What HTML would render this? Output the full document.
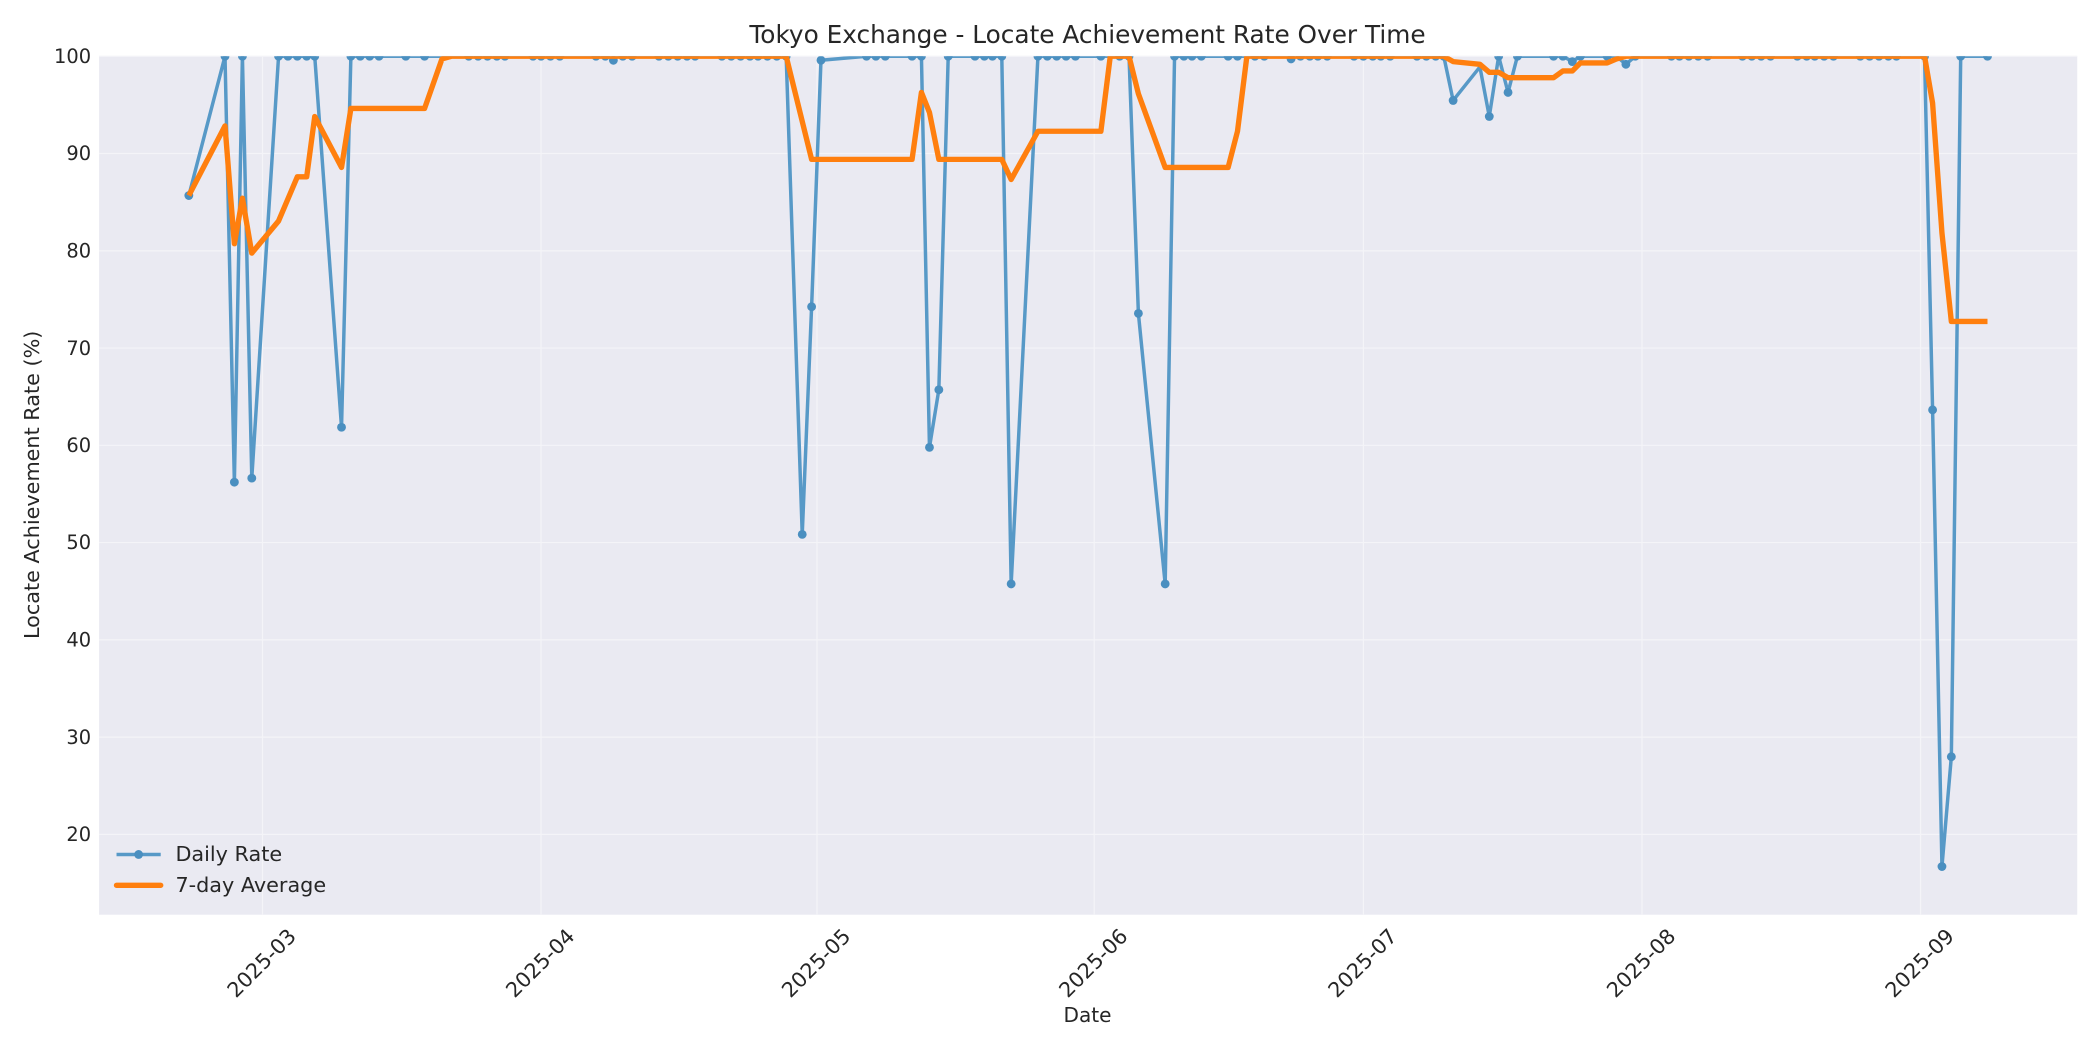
<!DOCTYPE html>
<html><head><meta charset="utf-8"><style>html,body{margin:0;padding:0;background:#fff}svg{display:block}</style></head>
<body>
<svg width="2100" height="1050" viewBox="0 0 1568 784" xmlns="http://www.w3.org/2000/svg" font-family="'DejaVu Sans','Liberation Sans',sans-serif">
<rect x="0" y="0" width="1568" height="784" fill="#fff"/>
<rect x="74" y="42" width="1477" height="641" fill="#eaeaf2"/>
<g stroke="#f4f4f8" stroke-width="0.9">
<line x1="74" x2="1551" y1="42" y2="42"/><line x1="74" x2="1551" y1="114.6" y2="114.6"/><line x1="74" x2="1551" y1="187.3" y2="187.3"/><line x1="74" x2="1551" y1="259.9" y2="259.9"/><line x1="74" x2="1551" y1="332.5" y2="332.5"/><line x1="74" x2="1551" y1="405.1" y2="405.1"/><line x1="74" x2="1551" y1="477.8" y2="477.8"/><line x1="74" x2="1551" y1="550.4" y2="550.4"/><line x1="74" x2="1551" y1="623" y2="623"/>
<line x1="196" x2="196" y1="42" y2="683"/><line x1="404" x2="404" y1="42" y2="683"/><line x1="610" x2="610" y1="42" y2="683"/><line x1="817" x2="817" y1="42" y2="683"/><line x1="1018" x2="1018" y1="42" y2="683"/><line x1="1226" x2="1226" y1="42" y2="683"/><line x1="1434" x2="1434" y1="42" y2="683"/>
</g>
<text x="812" y="32" font-size="18.5" text-anchor="middle" fill="#262626">Tokyo Exchange - Locate Achievement Rate Over Time</text>
<g font-size="14.5" fill="#262626" text-anchor="end">
<text x="68" y="47">100</text><text x="68" y="119.6">90</text><text x="68" y="192.3">80</text><text x="68" y="264.9">70</text><text x="68" y="337.5">60</text><text x="68" y="410.1">50</text><text x="68" y="482.8">40</text><text x="68" y="555.4">30</text><text x="68" y="628">20</text>
</g>
<g font-size="15.5" fill="#262626" text-anchor="end">
<text transform="translate(222,700) rotate(-45)">2025-03</text>
<text transform="translate(430,700) rotate(-45)">2025-04</text>
<text transform="translate(636,700) rotate(-45)">2025-05</text>
<text transform="translate(843,700) rotate(-45)">2025-06</text>
<text transform="translate(1044,700) rotate(-45)">2025-07</text>
<text transform="translate(1252,700) rotate(-45)">2025-08</text>
<text transform="translate(1460,700) rotate(-45)">2025-09</text>
</g>
<text x="812" y="763" font-size="15" text-anchor="middle" fill="#262626">Date</text>
<text transform="translate(29,362) rotate(-90)" font-size="15.5" text-anchor="middle" fill="#262626">Locate Achievement Rate (%)</text>
<svg x="74" y="42" width="1477" height="641" viewBox="74 42 1477 641" overflow="hidden">
<polyline fill="none" stroke="#5799c7" stroke-width="2.6" stroke-linejoin="round" points="141,146 168,42 175,360 181,42 188,357 208,42 235,42 255,319 262,42 587,42 599,399 606,229 613,45 647,42 688,42 694,334 701,291 708,42 748,42 755,436 775,42 843,42 850,234 870,436 877,42 1078,42 1085,75 1105,50 1112,87 1119,42 1126,69 1133,42 1167,42 1174,46 1180,42 1207,42 1214,48 1221,42 1437,42 1443,306 1450,647 1457,565 1464,42 1484,42"/>
<g fill="#4a8fc0">
<circle cx="141" cy="146" r="3.3"/><circle cx="175" cy="360" r="3.3"/><circle cx="188" cy="357" r="3.3"/><circle cx="255" cy="319" r="3.3"/><circle cx="458" cy="45" r="3.3"/><circle cx="599" cy="399" r="3.3"/><circle cx="606" cy="229" r="3.3"/><circle cx="613" cy="45" r="3.3"/><circle cx="694" cy="334" r="3.3"/><circle cx="701" cy="291" r="3.3"/><circle cx="755" cy="436" r="3.3"/><circle cx="850" cy="234" r="3.3"/><circle cx="870" cy="436" r="3.3"/><circle cx="1085" cy="75" r="3.3"/><circle cx="1112" cy="87" r="3.3"/><circle cx="1126" cy="69" r="3.3"/><circle cx="1174" cy="46" r="3.3"/><circle cx="1214" cy="48" r="3.3"/><circle cx="1443" cy="306" r="3.3"/><circle cx="1450" cy="647" r="3.3"/><circle cx="1457" cy="565" r="3.3"/><circle cx="964" cy="44" r="3.3"/>
</g>
<g fill="#4a8fc0">
<circle cx="168" cy="42" r="3.3"/><circle cx="181" cy="42" r="3.3"/><circle cx="208" cy="42" r="3.3"/><circle cx="215" cy="42" r="3.3"/><circle cx="222" cy="42" r="3.3"/><circle cx="229" cy="42" r="3.3"/><circle cx="235" cy="42" r="3.3"/><circle cx="262" cy="42" r="3.3"/><circle cx="269" cy="42" r="3.3"/><circle cx="276" cy="42" r="3.3"/><circle cx="283" cy="42" r="3.3"/><circle cx="303" cy="42" r="3.3"/><circle cx="317" cy="42" r="3.3"/><circle cx="350" cy="42" r="3.3"/><circle cx="357" cy="42" r="3.3"/><circle cx="364" cy="42" r="3.3"/><circle cx="371" cy="42" r="3.3"/><circle cx="377" cy="42" r="3.3"/><circle cx="398" cy="42" r="3.3"/><circle cx="404" cy="42" r="3.3"/><circle cx="411" cy="42" r="3.3"/><circle cx="418" cy="42" r="3.3"/><circle cx="445" cy="42" r="3.3"/><circle cx="452" cy="42" r="3.3"/><circle cx="465" cy="42" r="3.3"/><circle cx="472" cy="42" r="3.3"/><circle cx="492" cy="42" r="3.3"/><circle cx="499" cy="42" r="3.3"/><circle cx="506" cy="42" r="3.3"/><circle cx="513" cy="42" r="3.3"/><circle cx="519" cy="42" r="3.3"/><circle cx="539" cy="42" r="3.3"/><circle cx="546" cy="42" r="3.3"/><circle cx="553" cy="42" r="3.3"/><circle cx="560" cy="42" r="3.3"/><circle cx="566" cy="42" r="3.3"/><circle cx="573" cy="42" r="3.3"/><circle cx="580" cy="42" r="3.3"/><circle cx="587" cy="42" r="3.3"/><circle cx="647" cy="42" r="3.3"/><circle cx="654" cy="42" r="3.3"/><circle cx="661" cy="42" r="3.3"/><circle cx="681" cy="42" r="3.3"/><circle cx="688" cy="42" r="3.3"/><circle cx="708" cy="42" r="3.3"/><circle cx="728" cy="42" r="3.3"/><circle cx="735" cy="42" r="3.3"/><circle cx="741" cy="42" r="3.3"/><circle cx="748" cy="42" r="3.3"/><circle cx="775" cy="42" r="3.3"/><circle cx="782" cy="42" r="3.3"/><circle cx="789" cy="42" r="3.3"/><circle cx="796" cy="42" r="3.3"/><circle cx="803" cy="42" r="3.3"/><circle cx="822" cy="42" r="3.3"/><circle cx="836" cy="42" r="3.3"/><circle cx="843" cy="42" r="3.3"/><circle cx="877" cy="42" r="3.3"/><circle cx="884" cy="42" r="3.3"/><circle cx="890" cy="42" r="3.3"/><circle cx="897" cy="42" r="3.3"/><circle cx="917" cy="42" r="3.3"/><circle cx="924" cy="42" r="3.3"/><circle cx="937" cy="42" r="3.3"/><circle cx="944" cy="42" r="3.3"/><circle cx="971" cy="42" r="3.3"/><circle cx="978" cy="42" r="3.3"/><circle cx="984" cy="42" r="3.3"/><circle cx="991" cy="42" r="3.3"/><circle cx="1011" cy="42" r="3.3"/><circle cx="1018" cy="42" r="3.3"/><circle cx="1025" cy="42" r="3.3"/><circle cx="1031" cy="42" r="3.3"/><circle cx="1038" cy="42" r="3.3"/><circle cx="1058" cy="42" r="3.3"/><circle cx="1065" cy="42" r="3.3"/><circle cx="1072" cy="42" r="3.3"/><circle cx="1078" cy="42" r="3.3"/><circle cx="1119" cy="42" r="3.3"/><circle cx="1133" cy="42" r="3.3"/><circle cx="1160" cy="42" r="3.3"/><circle cx="1167" cy="42" r="3.3"/><circle cx="1180" cy="42" r="3.3"/><circle cx="1200" cy="42" r="3.3"/><circle cx="1221" cy="42" r="3.3"/><circle cx="1248" cy="42" r="3.3"/><circle cx="1254" cy="42" r="3.3"/><circle cx="1261" cy="42" r="3.3"/><circle cx="1268" cy="42" r="3.3"/><circle cx="1275" cy="42" r="3.3"/><circle cx="1301" cy="42" r="3.3"/><circle cx="1308" cy="42" r="3.3"/><circle cx="1315" cy="42" r="3.3"/><circle cx="1322" cy="42" r="3.3"/><circle cx="1342" cy="42" r="3.3"/><circle cx="1349" cy="42" r="3.3"/><circle cx="1355" cy="42" r="3.3"/><circle cx="1362" cy="42" r="3.3"/><circle cx="1369" cy="42" r="3.3"/><circle cx="1389" cy="42" r="3.3"/><circle cx="1396" cy="42" r="3.3"/><circle cx="1403" cy="42" r="3.3"/><circle cx="1410" cy="42" r="3.3"/><circle cx="1416" cy="42" r="3.3"/><circle cx="1437" cy="42" r="3.3"/><circle cx="1464" cy="42" r="3.3"/><circle cx="1484" cy="42" r="3.3"/>
</g>
<polyline fill="none" stroke="#ff7f0e" stroke-width="4" stroke-linejoin="round" points="141,146 168,94 175,182 181,148 188,189 208,165 222,132 229,132 235,87 255,125 262,81 317,81 330,44 337,42 587,42 606,119 681,119 688,69 694,84 701,119 748,119 755,134 775,98 822,98 829,42 843,42 850,70 870,125 917,125 924,98 931,42 1078,42 1085,46 1105,48 1112,54 1119,54 1126,58 1160,58 1167,53 1174,53 1180,47 1200,47 1207,44 1214,42 1437,42 1443,77 1450,174 1457,240 1484,240"/>
</svg>
<line x1="87" x2="120" y1="638" y2="638" stroke="#5799c7" stroke-width="2.6"/>
<circle cx="103.5" cy="638" r="3.3" fill="#4a8fc0"/>
<line x1="87" x2="120" y1="661" y2="661" stroke="#ff7f0e" stroke-width="4" stroke-linecap="round"/>
<text x="131" y="643" font-size="15.5" fill="#262626">Daily Rate</text>
<text x="131" y="666" font-size="15.5" fill="#262626">7-day Average</text>
</svg>
</body></html>
